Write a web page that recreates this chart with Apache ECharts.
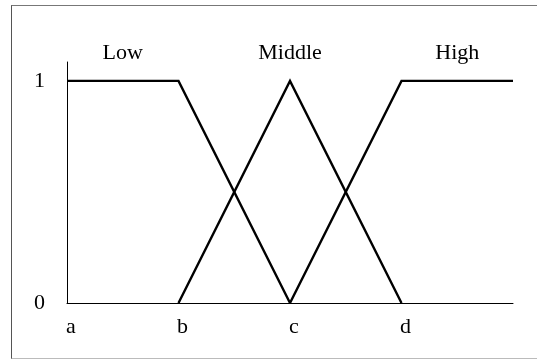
<!DOCTYPE html>
<html>
<head>
<meta charset="utf-8">
<script src="https://cdn.jsdelivr.net/npm/echarts@6/dist/echarts.min.js"></script>
<style>
    html, body { margin: 0; padding: 0; background: #fff; overflow: hidden; }
    #frame {
        position: absolute; left: 11px; top: 5px; width: 540px; height: 352px;
        border-left: 1.5px solid #555; border-top: 1px solid #777; border-bottom: 1px solid #bbb;
    }
    #chart { position: absolute; left: 0; top: 0; width: 537px; height: 359px; }
</style>
</head>
<body>
<div id="frame"></div>
<div id="chart"></div>
<script>
    // x positions of the break points and their tick labels
    var xTickLabels = ['a', 'b', 'c', 'd', ''];
    var yTickLabels = { 0: '0', 1: '1' };

    // membership functions
    var lowData = [[0, 1], [1, 1], [2, 0]];
    var middleData = [[1, 0], [2, 1], [3, 0]];
    var highData = [[2, 0], [3, 1], [4, 1]];

    // where the set names sit (x, y in data units)
    var setNames = ['Low', 'Middle', 'High'];
    var setNamePos = [[0.5, 1.125], [2, 1.125], [3.5, 1.125]];

    var font = '"Liberation Serif", "Times New Roman", serif';

    var chart = echarts.init(document.getElementById('chart'));

    function lineSeries(name, data) {
        return {
            name: name,
            type: 'line',
            data: data,
            symbol: 'none',
            silent: true,
            clip: false,
            lineStyle: { color: '#000', width: 2.4, join: 'miter' }
        };
    }

    var option = {
        backgroundColor: 'transparent',
        animation: false,
        grid: { left: 67, right: 24, top: 62, bottom: 56 },
        xAxis: {
            type: 'value',
            min: 0,
            max: 4,
            interval: 1,
            splitLine: { show: false },
            axisTick: { show: false },
            axisLine: { onZero: false, lineStyle: { color: '#000', width: 1 } },
            axisLabel: {
                margin: 13,
                padding: [0, 0, 0, 8],
                color: '#000',
                fontFamily: font,
                fontSize: 22,
                formatter: function (v) { return xTickLabels[v] || ''; }
            }
        },
        yAxis: {
            type: 'value',
            min: 0,
            max: 1.085,
            interval: 1,
            splitLine: { show: false },
            axisTick: { show: false },
            axisLine: { show: true, lineStyle: { color: '#000', width: 1 } },
            axisLabel: {
                margin: 22,
                color: '#000',
                fontFamily: font,
                fontSize: 22,
                formatter: function (v) { return yTickLabels[v] || ''; }
            }
        },
        series: [
            lineSeries('Low', lowData),
            lineSeries('Middle', middleData),
            lineSeries('High', highData)
        ]
    };

    chart.setOption(option);

    // put the set names above the curves, using the chart's own scales
    chart.setOption({
        graphic: setNames.map(function (name, i) {
            var p = chart.convertToPixel({ gridIndex: 0 }, setNamePos[i]);
            return {
                type: 'text',
                x: p[0],
                y: p[1],
                style: {
                    text: name,
                    fill: '#000',
                    font: '22px ' + font,
                    textAlign: 'center',
                    textVerticalAlign: 'middle'
                }
            };
        })
    });
</script>
</body>
</html>
